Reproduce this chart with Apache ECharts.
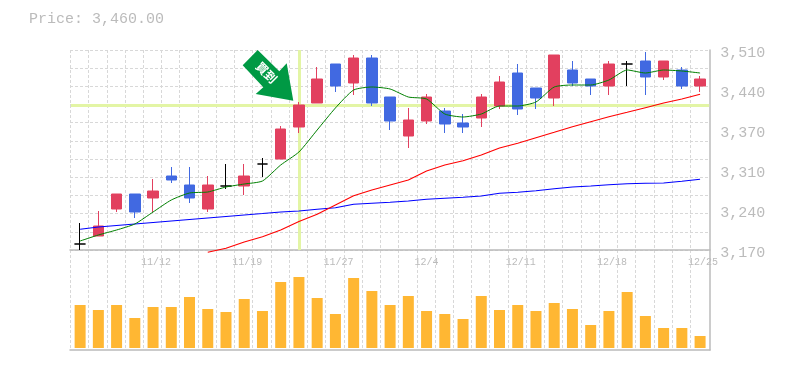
<!DOCTYPE html>
<html><head><meta charset="utf-8">
<style>html,body{margin:0;padding:0;background:#fff}#c{width:785px;height:370px}</style>
<script src="https://cdn.jsdelivr.net/npm/echarts@6/dist/echarts.min.js"></script>
</head><body><div id="c"></div>
<script>
const dates=['11/6','11/7','11/8','11/9','11/12','11/13','11/14','11/15','11/16','11/19','11/20','11/21','11/22','11/26','11/27','11/28','11/29','11/30','12/3','12/4','12/5','12/6','12/7','12/10','12/11','12/12','12/13','12/14','12/17','12/18','12/19','12/20','12/21','12/24','12/25'];
const opens=[3180.2,3193.8,3239.7,3265.2,3258.4,3295.8,3280.5,3239.7,3278.8,3278.8,3316.2,3324.7,3379.1,3419.9,3486.2,3453.9,3496.4,3430.1,3363.8,3389.3,3406.3,3385.9,3394.4,3414.8,3470.9,3445.4,3428.4,3476,3460.7,3448.8,3486.2,3491.3,3464.1,3476,3448.8];
const closes=[3180.2,3210.8,3265.2,3234.6,3270.3,3289,3258.4,3280.5,3278.8,3295.8,3316.2,3375.7,3416.5,3460.7,3448.8,3496.4,3419.9,3389.3,3391,3430.1,3384.2,3379.1,3430.1,3455.6,3409.7,3428.4,3501.5,3453.9,3448.8,3486.2,3486.2,3464.1,3491.3,3448.8,3460.7];
const lows=[3170,3193.8,3234.6,3224.4,3234.6,3283.9,3249.9,3234.6,3273.7,3263.5,3294.1,3324.7,3368.9,3419.9,3438.6,3433.5,3414.8,3374,3343.4,3384.2,3368.9,3368.9,3379.1,3409.7,3399.5,3409.7,3414.8,3448.8,3433.5,3433.5,3448.8,3433.5,3459,3443.7,3438.6];
const highs=[3215.9,3236.3,3265.2,3265.2,3290.7,3311.1,3311.1,3295.8,3316.2,3316.2,3326.4,3380.8,3421.6,3481.1,3486.2,3501.5,3501.5,3430.1,3411.4,3435.2,3411.4,3401.2,3435.2,3465.8,3486.2,3445.4,3501.5,3491.3,3460.7,3491.3,3491.3,3506.6,3491.3,3481.1,3465.8];
const maShort=[3185.3,3195.5,3204,3214.2,3234.6,3255,3266.9,3268.6,3277.1,3282.2,3287.3,3314.5,3336.6,3374,3411.4,3442,3447.1,3443.7,3430.1,3426.7,3401.2,3396.1,3401.2,3414.8,3414.8,3421.6,3447.1,3450.5,3450.5,3459,3476,3470.9,3476,3474.3,3470.9];
const maMid=[null,null,null,null,null,null,null,3166.1,3172.9,3183.6,3192.6,3204,3218.5,3230.7,3246.5,3262.3,3272,3280.5,3289,3304.3,3314.5,3321.8,3331.5,3343.4,3351.4,3360.9,3370.1,3379.6,3388.1,3396.6,3404.1,3411.9,3419.9,3426.7,3434.7];
const maLong=[3205.2,3209.1,3211.7,3214.2,3216.8,3219.3,3221.9,3224.4,3227,3229.5,3232,3234.6,3236.3,3239.2,3241.9,3247.7,3249.4,3251.1,3253.3,3256.2,3257.9,3259.6,3261.8,3266.4,3268.1,3270.8,3274.2,3277.1,3278.8,3281,3282.7,3283.4,3283.9,3286.8,3290.2];
const volumes=[43,38,43,30,41,41,51,39,36,49,37,66,71,50,34,70,57,43,52,37,34,29,52,38,43,37,45,39,23,37,56,32,20,20,12];
const yTickValues=[3170,3238,3306,3374,3442,3510];
const yTickLabels=['3,170','3,240','3,310','3,370','3,440','3,510'];
const crossIndex=12, crossPrice=3416.5;
const titleText='Price: 3,460.00';
const arrowText='買到';

const MONO='"Liberation Mono",monospace', GREY='#bbbbbb', GRID='#d8d8d8', CROSS='#e3f5a5';
const hidden={show:false};
const off={axisLine:hidden,axisTick:hidden,axisLabel:hidden,splitLine:hidden};
const lattice=[...Array(11).keys()];
const chart=echarts.init(document.getElementById('c'),null,{renderer:'canvas'});
chart.setOption({
  animation:false,backgroundColor:'#fff',
  title:{text:titleText,left:24,top:7,textStyle:{fontFamily:MONO,fontSize:15,fontWeight:'normal',color:GREY}},
  grid:[
    {left:71,width:638.2,top:50,height:200},
    {left:71,width:638.2,top:258,height:90},
    {left:70.3,width:638.2,top:50,height:300},
    {left:70,width:640,top:50,height:200},
    {left:70,width:640,top:50,height:300}
  ],
  xAxis:[
    {gridIndex:0,type:'category',data:dates,axisLine:hidden,axisTick:hidden,splitLine:hidden,
     axisLabel:{interval:i=>i%5===4,margin:7,align:'left',padding:[0,0,0,-12],fontFamily:MONO,fontSize:10,color:GREY,hideOverlap:false}},
    {gridIndex:1,type:'category',data:dates,...off},
    {gridIndex:2,type:'category',data:dates,axisLine:hidden,axisTick:hidden,axisLabel:hidden,
     splitLine:{show:true,interval:0,showMaxLine:false,lineStyle:{color:GRID,type:[3,2],width:1}}},
    {gridIndex:3,type:'category',data:lattice,axisTick:hidden,axisLabel:hidden,splitLine:hidden,
     axisLine:{show:true,lineStyle:{color:GREY,width:1.5}}},
    {gridIndex:4,type:'value',min:0,max:1,axisTick:hidden,axisLabel:hidden,splitLine:hidden,
     axisLine:{show:true,onZero:false,lineStyle:{color:GREY,width:1.5}}}
  ],
  yAxis:[
    {gridIndex:0,type:'value',position:'right',min:3170,max:3510,axisLine:hidden,axisTick:hidden,splitLine:hidden,
     axisLabel:{customValues:yTickValues,margin:11,align:'left',verticalAlign:'top',padding:[-4,0,0,0],fontFamily:MONO,fontSize:15,color:GREY,
       formatter:v=>yTickLabels[yTickValues.indexOf(v)]}},
    {gridIndex:1,type:'value',min:0,max:90,...off},
    {gridIndex:2,type:'value',min:0,max:1,...off},
    {gridIndex:3,type:'category',data:lattice,axisLine:hidden,axisTick:hidden,axisLabel:hidden,
     splitLine:{show:true,interval:0,lineStyle:{color:GRID,type:[3,2],width:1}}},
    {gridIndex:4,type:'value',position:'right',min:0,max:1,axisTick:hidden,axisLabel:hidden,splitLine:hidden,
     axisLine:{show:true,onZero:false,lineStyle:{color:GREY,width:1.5}}}
  ],
  series:[
    {type:'line',xAxisIndex:0,yAxisIndex:0,data:[],z:1,silent:true,
     markLine:{silent:true,z:1,symbol:'none',label:hidden,animation:false,
       lineStyle:{color:CROSS,width:3,type:'solid'},
       data:[{yAxis:crossPrice},{xAxis:crossIndex}]}},
    {type:'candlestick',xAxisIndex:0,yAxisIndex:0,barWidth:11,z:3,clip:false,
     itemStyle:{color:'#e2405f',color0:'#4169e1',borderColor:'#e2405f',borderColor0:'#4169e1',borderColorDoji:'#000000',borderWidth:1},
     data:dates.map((d,i)=>[opens[i],closes[i],lows[i],highs[i]])},
    {type:'line',xAxisIndex:0,yAxisIndex:0,data:maLong,symbol:'none',clip:false,z:4,lineStyle:{color:'#0000ff',width:1.1}},
    {type:'line',xAxisIndex:0,yAxisIndex:0,data:maMid,symbol:'none',clip:false,z:4,lineStyle:{color:'#ff0000',width:1.1}},
    {type:'line',xAxisIndex:0,yAxisIndex:0,data:maShort,symbol:'none',clip:false,z:4,smooth:0.2,lineStyle:{color:'#008000',width:1}},
    {type:'bar',xAxisIndex:1,yAxisIndex:1,data:volumes,barWidth:11,itemStyle:{color:'#ffb733'}}
  ],
  graphic:[
    {type:'polygon',z:10,shape:{points:[[257.7,50],[279.3,71.3],[286.7,63.3],[293.3,100.7],[255.7,94],[263.3,87.3],[242.7,65.3]]},style:{fill:'#009944'}},
    {type:'text',z:11,x:266.5,y:72.5,rotation:-Math.PI/4,style:{text:arrowText,fill:'#fff',font:'bold 12px "Noto Sans CJK JP"',align:'center',verticalAlign:'middle'}}
  ]
});
</script></body></html>
